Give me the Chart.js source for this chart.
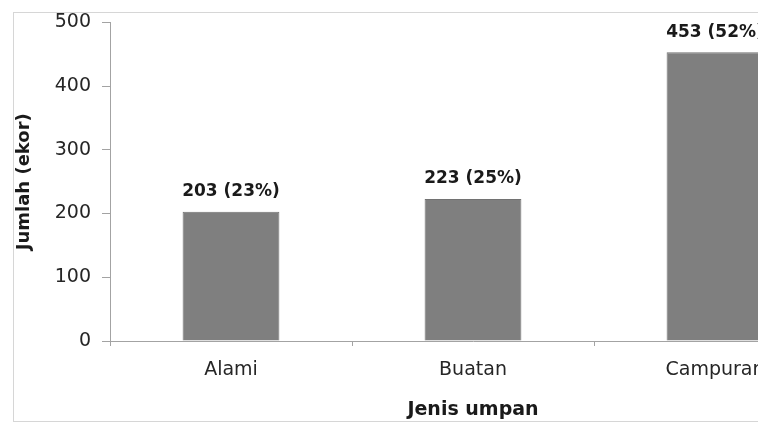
<!DOCTYPE html>
<html>
<head>
<meta charset="utf-8">
<script src="https://cdn.jsdelivr.net/npm/chart.js@4"></script>
<style>
  html, body { margin: 0; padding: 0; background: #fff; }
  #wrap { width: 758px; height: 425px; overflow: hidden; position: relative; }
  canvas { position: absolute; left: 0; top: 0; }
</style>
</head>
<body>
<div id="wrap"><canvas id="chart" width="850" height="425"></canvas></div>
<script>
const categories = ['Alami', 'Buatan', 'Campuran'];
const counts = [203, 223, 453];
const percents = [23, 25, 52];
const yTicks = [0, 100, 200, 300, 400, 500];

const FONT = 'DejaVu Sans';
const axisColor = '#a3a3a3';
const textColor = '#262626';

// box drawn round the whole chart, as in the source picture
const frame = {
  id: 'frame',
  beforeDraw(chart) {
    const ctx = chart.ctx;
    ctx.save();
    ctx.strokeStyle = '#d6d6d6';
    ctx.lineWidth = 1;
    ctx.strokeRect(13.5, 12.5, chart.width, 409);
    ctx.restore();
  }
};

// value + percent above each bar
const barLabels = {
  id: 'barLabels',
  afterDatasetsDraw(chart) {
    const ctx = chart.ctx;
    const meta = chart.getDatasetMeta(0);
    ctx.save();
    ctx.font = 'bold 17px "' + FONT + '"';
    ctx.fillStyle = '#1a1a1a';
    ctx.textAlign = 'center';
    ctx.textBaseline = 'middle';
    meta.data.forEach((bar, i) => {
      ctx.fillText(counts[i] + ' (' + percents[i] + '%)', bar.x, bar.y - 20);
    });
    ctx.restore();
  }
};

new Chart(document.getElementById('chart'), {
  type: 'bar',
  data: {
    labels: categories,
    datasets: [{
      data: counts,
      backgroundColor: '#7f7f7f',
      borderColor: '#727272',
      borderWidth: 1,
      barPercentage: 0.4,
      categoryPercentage: 1
    }]
  },
  options: {
    responsive: false,
    animation: false,
    layout: { padding: { top: 21, right: 14, left: 0, bottom: 0 } },
    plugins: {
      legend: { display: false },
      tooltip: { enabled: false }
    },
    scales: {
      x: {
        grid: {
          display: true,
          drawOnChartArea: false,
          tickLength: 5,
          color: axisColor,
          offset: true
        },
        border: { color: axisColor },
        ticks: {
          padding: 13,
          color: textColor,
          font: { family: FONT, size: 19 }
        },
        title: {
          display: true,
          text: 'Jenis umpan',
          color: '#1a1a1a',
          font: { family: FONT, size: 19, weight: 'bold' },
          padding: { top: 0, bottom: 4 }
        },
        afterFit(scale) { scale.height = 84; }
      },
      y: {
        min: 0,
        max: 500,
        afterBuildTicks(scale) { scale.ticks = yTicks.map(v => ({ value: v })); },
        grid: {
          display: true,
          drawOnChartArea: false,
          tickLength: 8,
          color: axisColor
        },
        border: { color: axisColor },
        ticks: {
          padding: 11,
          color: textColor,
          font: { family: FONT, size: 19 }
        },
        title: {
          display: true,
          text: 'Jumlah (ekor)',
          color: '#1a1a1a',
          font: { family: FONT, size: 18, weight: 'bold' },
          padding: { top: 14, bottom: 0 }
        },
        afterFit(scale) { scale.width = 110; }
      }
    }
  },
  plugins: [frame, barLabels]
});
</script>
</body>
</html>
